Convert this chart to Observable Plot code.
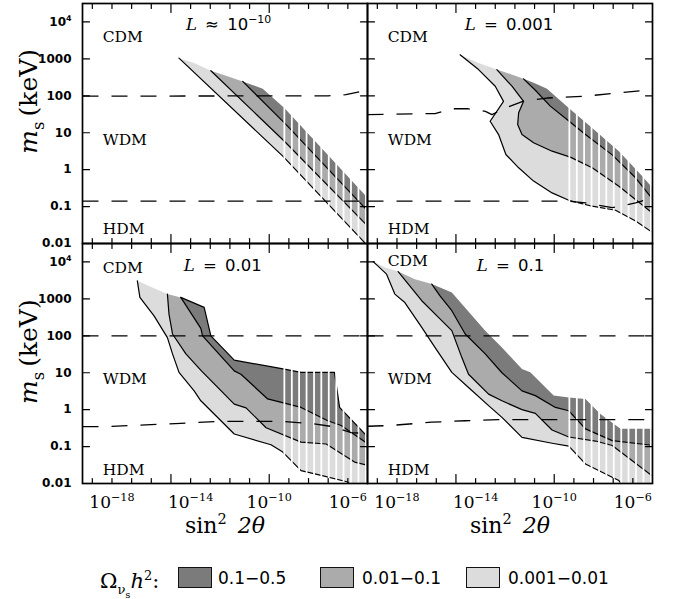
<!DOCTYPE html>
<html><head><meta charset="utf-8">
<script src="https://cdn.jsdelivr.net/npm/d3@7"></script>
<script src="https://cdn.jsdelivr.net/npm/@observablehq/plot@0.6"></script>
<style>
body{margin:0;background:#fff;}
#wrap{position:relative;width:680px;height:599px;overflow:hidden;}
#wrap svg{position:absolute;left:0;top:0;}
.lg{position:absolute;height:22px;line-height:22px;font-family:"DejaVu Sans";font-size:17px;color:#000;white-space:nowrap;}
.sw{position:absolute;width:32px;height:19px;border:1.5px solid #111;}
</style></head><body><div id="wrap"></div>
<script>
// ---------- data (log10 sin^2 2θ, log10 m_s[keV]) ----------
const LIGHT = "#dcdcdc", MID = "#ababab", DARK = "#7b7b7b";
const panelCol = ["left", "right", "left", "right"];
const panelRow = ["top", "top", "bottom", "bottom"];
const panelTitle = ["~{L}\u2002≈\u200210^{−10}", "~{L}\u2002=\u20020.001", "~{L}\u2002=\u20020.01", "~{L}\u2002=\u20020.1"];
const titleX = [-14.24, -14.55, -14.35, -13.94];
const titleY = [3.93, 3.93, 3.91, 3.91];
const regionNames = ["CDM", "WDM", "HDM"];
const regionX = -18.47;
const regionY = [[3.60, 0.81, -1.61], [3.60, 0.81, -1.61], [3.84, 0.82, -1.63], [4.02, 0.82, -1.63]];

// Panel 1: L ≈ 1e-10
const p1_c1 = [[-14.59,3.02],[-9.31,0.365],[-5.23,-1.93],[-4.57,-2.3]];
const p1_c2 = [[-12.97,2.68],[-9.23,0.77],[-5.15,-1.44],[-4.5,-1.79]];
const p1_c3 = [[-11.35,2.39],[-9.14,1.22],[-5.15,-1.03],[-4.5,-1.4]];
const p1_c4 = [[-11.35,2.39],[-10.33,2.19],[-9.23,1.67],[-5.15,-0.67],[-4.5,-1.04]];
const p1_t1 = [[-13.82,2.89]];
const p1_t2 = [[-12.12,2.53]];
const p1_upper = [[-19.5,1.99],[-7.0,2.0],[-6.1,2.03],[-5.0,2.15]];
const p1_lower = [[-19.5,-0.85],[-5.0,-0.85]];

// Panel 2: L = 0.001
const p2_c1 = [[-14.79,3.11],[-13.85,2.71],[-13.0,2.26],[-12.58,1.85],[-13.26,1.31],[-12.83,0.95],[-12.46,0.41],[-11.81,0.05],[-11.05,-0.31],[-10.11,-0.63],[-9.26,-0.83],[-8.07,-0.99],[-6.88,-1.10],[-5.86,-1.39],[-4.92,-1.73],[-4.5,-1.88]];
const p2_c2 = [[-12.92,2.71],[-12.15,2.26],[-11.56,1.85],[-11.81,1.54],[-11.86,1.22],[-11.64,0.95],[-11.05,0.73],[-10.11,0.5],[-9.18,0.34],[-8.07,0.05],[-6.71,-0.45],[-4.92,-1.21],[-4.5,-1.4]];
const p2_c3 = [[-11.56,2.46],[-10.96,2.15],[-10.2,1.72],[-9.35,1.36],[-8.41,0.95],[-7.05,0.4],[-5.86,-0.22],[-4.92,-0.85],[-4.5,-1.14]];
const p2_c4 = [[-11.56,2.46],[-10.96,2.33],[-10.37,2.19],[-9.26,1.67],[-8.07,1.13],[-6.71,0.5],[-5.52,-0.18],[-4.92,-0.54],[-4.5,-0.8]];
const p2_t1 = [[-13.85,2.89]];
const p2_t2 = [[-12.24,2.59]];
const p2_upper = [[-19.5,1.49],[-16.06,1.52],[-15.2,1.65],[-14.4,1.65],[-13.5,1.58],[-13.17,1.49],[-12.5,1.67],[-11.6,1.85],[-10.37,1.94],[-8.41,1.99],[-6.71,2.08],[-5.0,2.17]];
const p2_lower = [[-19.5,-0.85],[-9.3,-0.85],[-8.41,-0.9],[-7.05,-1.03],[-5.86,-0.9],[-5.0,-0.76]];

// Panel 3: L = 0.01
const p3_c1 = [[-16.71,3.49],[-16.58,3.04],[-15.86,2.54],[-15.18,1.95],[-14.92,1.51],[-14.59,1.01],[-13.82,0.51],[-13.48,0.24],[-11.78,-0.66],[-9.91,-0.95],[-9.31,-1.15],[-8.38,-1.65],[-7.36,-1.78],[-6.0,-1.96],[-5.5,-2.3]];
const p3_c2 = [[-15.18,3.13],[-15.1,2.59],[-14.92,2.05],[-14.24,1.51],[-13.45,1.05],[-11.78,0.15],[-11.18,0.05],[-10.16,-0.49],[-8.38,-0.88],[-7.1,-0.93],[-5.66,-1.42],[-4.97,-1.51],[-4.5,-1.6]];
const p3_c3 = [[-14.5,3.04],[-13.48,2.2],[-13.39,2.0],[-11.78,1.05],[-11.44,0.96],[-10.08,0.29],[-8.38,0.06],[-7.02,-0.3],[-6.34,-0.43],[-4.97,-0.93],[-4.5,-1.1]];
const p3_c4 = [[-14.5,3.04],[-13.31,2.77],[-12.97,2.0],[-11.78,1.34],[-9.23,1.1],[-8.38,1.01],[-6.68,1.01],[-6.42,0.06],[-4.97,-0.75],[-4.5,-1.01]];
const p3_t1 = [[-15.95,3.31]];
const p3_t2 = [];
const p3_upper = [[-19.5,2.0],[-5.0,2.0]];
const p3_lower = [[-19.5,-0.46],[-18.41,-0.46],[-14.5,-0.37],[-12.63,-0.32],[-9.23,-0.32],[-7.8,-0.38],[-6.9,-0.45],[-5.83,-0.62],[-5.0,-0.65]];

// Panel 4: L = 0.1
const p4_c1 = [[-19.21,4.01],[-18.53,3.67],[-18.11,3.13],[-17.6,2.9],[-16.74,2.23],[-16.06,1.68],[-15.21,1.01],[-14.36,0.6],[-13.34,0.11],[-12.66,-0.21],[-11.64,-0.75],[-10.11,-0.91],[-9.26,-0.99],[-8.41,-1.47],[-7.05,-1.83],[-6.71,-1.92],[-6.2,-2.3]];
const p4_c2 = [[-17.94,3.74],[-16.74,2.95],[-15.89,2.5],[-15.21,2.14],[-14.7,1.41],[-14.36,0.96],[-13.34,0.42],[-12.66,0.24],[-11.64,0.0],[-10.96,-0.1],[-10.11,-0.55],[-9.26,-0.74],[-7.9,-0.85],[-7.05,-0.97],[-4.92,-1.83],[-4.5,-2.0]];
const p4_c3 = [[-16.23,3.4],[-15.81,3.08],[-15.21,2.68],[-14.53,2.05],[-13.51,1.51],[-12.66,1.0],[-11.64,0.51],[-10.96,0.38],[-9.94,0.06],[-9.26,-0.03],[-8.41,-0.52],[-7.05,-0.84],[-4.92,-0.97],[-4.5,-1.0]];
const p4_c4 = [[-16.23,3.4],[-15.21,3.17],[-13.51,2.14],[-12.66,1.68],[-11.64,1.1],[-11.22,1.01],[-10.03,0.38],[-9.26,0.33],[-8.41,0.29],[-7.65,-0.12],[-6.63,-0.52],[-4.92,-0.52],[-4.5,-0.52]];
const p4_t1 = [[-18.62,3.86]];
const p4_t2 = [[-17.09,3.53]];
const p4_upper = [[-19.5,2.0],[-5.0,2.0]];
const p4_lower = [[-19.5,-0.45],[-18.36,-0.43],[-16.23,-0.34],[-14.53,-0.3],[-12.83,-0.27],[-5.0,-0.27]];

const darkEdgeLined = [false, false, true, false];
const stripeX = [-9.23,-8.85,-8.48,-8.1,-7.72,-7.35,-6.97,-6.59,-6.22,-5.84,-5.46,-5.08];

// axes
const xMinorTicks = [-19,-18,-17,-16,-14,-13,-12,-11,-9,-8,-7,-6];
const xMajorTicks = [-15,-10];
const xLabelTicks = [-18,-14,-10,-6];
const yTickVals = [-1,0,1,2,3,4];
const yLabelTicks = [-2,-1,0,1,2,3,4];
const yLabelText = ["0.01","0.1","1","10","100","1000","10^{4}"];
const legendLabels = ["0.1−0.5", "0.01−0.1", "0.001−0.01"];
const legendColors = [DARK, MID, LIGHT];

// ---------- build ----------
const curves = [
  [p1_c1,p1_c2,p1_c3,p1_c4,p1_t1,p1_t2,p1_upper,p1_lower],
  [p2_c1,p2_c2,p2_c3,p2_c4,p2_t1,p2_t2,p2_upper,p2_lower],
  [p3_c1,p3_c2,p3_c3,p3_c4,p3_t1,p3_t2,p3_upper,p3_lower],
  [p4_c1,p4_c2,p4_c3,p4_c4,p4_t1,p4_t2,p4_upper,p4_lower]
];
const CORNER = [-4.5, -2.5];
const rev = a => a.slice().reverse();
const light = [], mid = [], dark = [], lines = [], dashes = [];
function push(arr, i, id, pts) {
  pts.forEach(p => arr.push({col: panelCol[i], row: panelRow[i], id: i + id, x: 10 ** p[0], y: 10 ** p[1]}));
}
curves.forEach(([c1,c2,c3,c4,t1,t2,up,lo], i) => {
  push(light, i, "L", [...c1, CORNER, ...rev(c2), ...t1]);
  push(mid, i, "M", [...c2, CORNER, ...rev(c3), ...t2]);
  push(dark, i, "D", [...c3, CORNER, ...rev(c4)]);
  push(lines, i, "a", c1); push(lines, i, "b", c2); push(lines, i, "c", c3);
  if (darkEdgeLined[i]) push(lines, i, "d", c4);
  push(dashes, i, "u", up); push(dashes, i, "l", lo);
});
const titles = panelTitle.map((t, i) => ({col: panelCol[i], row: panelRow[i], t, x: 10 ** titleX[i], y: 10 ** titleY[i]}));
const regions = regionY.flatMap((ys, i) => ys.map((v, k) => ({col: panelCol[i], row: panelRow[i], t: regionNames[k], x: 10 ** regionX, y: 10 ** v})));
const yTitles = [{row: "top", col: "left", y: 10 ** 1.85}, {row: "bottom", col: "left", y: 10 ** 1.57}];
const xTitles = [{row: "bottom", col: "left"}, {row: "bottom", col: "right"}];

const tickShape = {draw(ctx, l) { ctx.moveTo(0, 0); ctx.lineTo(0, -l); }};
const tk = (vals, ch, frameAnchor, rotate, length) => Plot.vector(vals, {
  [ch]: d => 10 ** d, frameAnchor, rotate, length, anchor: "start", shape: tickShape, stroke: "black", strokeWidth: 1.2
});
const P = {x: "x", y: "y", z: "id", fx: "col", fy: "row", clip: true};

const plot = Plot.plot({
  width: 680, height: 548,
  marginLeft: 82, marginRight: 28, marginTop: 2, marginBottom: 65,
  x: {type: "log", domain: [10 ** -19.5, 1e-5]},
  y: {type: "log", domain: [1e-2, 10 ** 4.5]},
  fx: {domain: ["left", "right"], padding: 0, axis: null},
  fy: {domain: ["top", "bottom"], padding: 0, axis: null},
  style: {background: "white", color: "black"},
  marks: [
    Plot.line(light, {...P, fill: LIGHT, stroke: "none"}),
    Plot.line(mid, {...P, fill: MID, stroke: "none"}),
    Plot.line(dark, {...P, fill: DARK, stroke: "none"}),
    Plot.line(lines, {...P, stroke: "black", strokeWidth: 1.2}),
    Plot.ruleX(stripeX, {x: d => 10 ** d, stroke: "white", strokeWidth: 1.8}),
    Plot.line(dashes, {...P, stroke: "black", strokeWidth: 1.3, strokeDasharray: "16,13", strokeLinecap: "butt"}),
    Plot.frame({stroke: "black", strokeWidth: 1.7}),
    tk(xMinorTicks, "x", "bottom", 0, 5), tk(xMajorTicks, "x", "bottom", 0, 9),
    tk(xMinorTicks, "x", "top", 180, 5), tk(xMajorTicks, "x", "top", 180, 9),
    tk(yTickVals, "y", "left", 90, 7), tk(yTickVals, "y", "right", -90, 7),
    Plot.axisX({anchor: "bottom", ticks: xLabelTicks.map(d => 10 ** d), tickSize: 0, tickPadding: 12, label: null,
      tickFormat: d => `10^{−${Math.round(-Math.log10(d))}}`, fontSize: 17, fontFamily: "DejaVu Serif"}),
    Plot.axisY({anchor: "left", ticks: yLabelTicks.map(d => 10 ** d), tickSize: 0, tickPadding: 11, label: null,
      tickFormat: d => yLabelText[yLabelTicks.indexOf(Math.round(Math.log10(d)))], fontSize: 12, fontWeight: "bold", fontFamily: "DejaVu Sans"}),
    Plot.text(titles, {x: "x", y: "y", fx: "col", fy: "row", text: "t", textAnchor: "start", fontSize: 16.5, fontFamily: "DejaVu Sans"}),
    Plot.text(regions, {x: "x", y: "y", fx: "col", fy: "row", text: "t", textAnchor: "start", fontSize: 15.5, fontFamily: "DejaVu Serif"}),
    Plot.text(yTitles, {y: "y", fx: "col", fy: "row", frameAnchor: "left", textAnchor: "middle", dx: -54, rotate: -90, text: () => "~{m}_{s}\u2009(keV)", fontSize: 25, fontFamily: "DejaVu Serif"}),
    Plot.text(xTitles, {fx: "col", fy: "row", frameAnchor: "bottom", dy: 49, text: () => "sin^{2}\u2002~{2θ}", fontSize: 22, fontFamily: "DejaVu Serif"})
  ]
});
const wrap = document.getElementById("wrap");
wrap.appendChild(plot);

// rich text: ^{sup} _{sub} ~{italic}
function richText(svg) {
  svg.querySelectorAll("text").forEach(el => {
    const s = el.textContent;
    if (!/[\^_~]\{/.test(s)) return;
    const fs = parseFloat(getComputedStyle(el).fontSize) || 12;
    while (el.firstChild) el.removeChild(el.firstChild);
    let cur = 0, i = 0, m;
    const re = /([\^_~])\{([^}]*)\}/g;
    const add = (txt, kind) => {
      if (!txt) return;
      const ts = document.createElementNS("http://www.w3.org/2000/svg", "tspan");
      ts.textContent = txt;
      let target = 0;
      if (kind === "^") { target = -0.4 * fs; ts.setAttribute("font-size", 0.66 * fs); }
      else if (kind === "_") { target = 0.3 * fs; ts.setAttribute("font-size", 0.66 * fs); }
      else if (kind === "~") { ts.setAttribute("font-style", "italic"); ts.setAttribute("font-family", "DejaVu Serif"); }
      if (target !== cur) { ts.setAttribute("dy", target - cur); cur = target; }
      el.appendChild(ts);
    };
    while ((m = re.exec(s))) { add(s.slice(i, m.index), ""); add(m[2], m[1]); i = re.lastIndex; }
    add(s.slice(i), "");
  });
}
richText(plot);

// legend
const lg = document.createElement("div");
lg.className = "lg";
lg.style.left = "100px"; lg.style.top = "565px";
lg.style.fontFamily = "DejaVu Serif"; lg.style.fontSize = "21px";
lg.innerHTML = 'Ω<sub style="font-size:13px;vertical-align:-6px">ν<sub style="font-size:10px;vertical-align:-4px">s</sub></sub><i>h</i><sup style="font-size:13px;vertical-align:8px">2</sup>:';
wrap.appendChild(lg);
const swLeft = [178, 320, 466], txLeft = [218, 362, 508];
legendLabels.forEach((t, i) => {
  const sw = document.createElement("div");
  sw.className = "sw"; sw.style.left = swLeft[i] + "px"; sw.style.top = "567px"; sw.style.background = legendColors[i];
  wrap.appendChild(sw);
  const tx = document.createElement("div");
  tx.className = "lg"; tx.style.left = txLeft[i] + "px"; tx.style.top = "567px"; tx.textContent = t;
  wrap.appendChild(tx);
});
</script></body></html>
